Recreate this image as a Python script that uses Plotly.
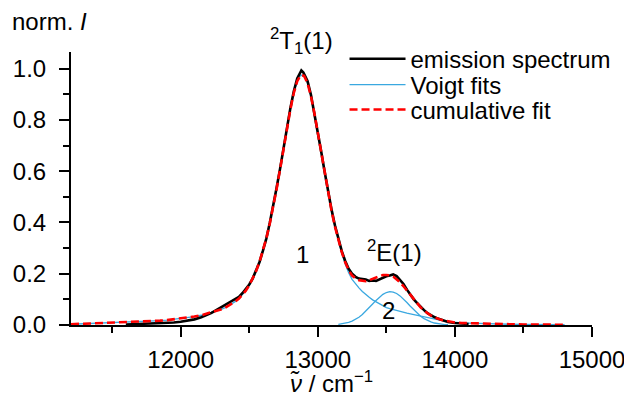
import plotly.graph_objects as go

# ---------------- data ----------------
fit_x = [11200, 11250, 11300, 11350, 11400, 11450, 11500, 11550, 11600, 11650,
         11700, 11750, 11800, 11850, 11900, 11950, 12000, 12050, 12100, 12150,
         12200, 12225, 12250, 12275, 12300, 12325, 12350, 12375, 12400, 12425,
         12450, 12475, 12500, 12525, 12550, 12575, 12600, 12625, 12650, 12675,
         12700, 12725, 12750, 12775, 12800, 12825, 12850, 12875, 12900, 12925,
         12950, 12975, 13000, 13025, 13050, 13075, 13100, 13125, 13150, 13175,
         13200, 13225, 13250, 13275, 13300, 13325, 13350, 13375, 13400, 13425,
         13450, 13475, 13500, 13525, 13550, 13575, 13600, 13625, 13650, 13675,
         13700, 13725, 13750, 13775, 13800, 13825, 13850, 13875, 13900, 13925,
         13950, 14000, 14050, 14100, 14200, 14300, 14400, 14500, 14600, 14700,
         14800]

voigt1 = [0.003, 0.004, 0.004, 0.005, 0.006, 0.007, 0.008, 0.009, 0.010, 0.011,
          0.012, 0.014, 0.015, 0.017, 0.019, 0.022, 0.025, 0.029, 0.033, 0.038,
          0.045, 0.049, 0.053, 0.058, 0.062, 0.068, 0.075, 0.082, 0.092, 0.103,
          0.117, 0.134, 0.155, 0.180, 0.210, 0.246, 0.289, 0.339, 0.396, 0.461,
          0.532, 0.608, 0.688, 0.767, 0.841, 0.905, 0.951, 0.975, 0.972, 0.944,
          0.893, 0.827, 0.751, 0.672, 0.593, 0.517, 0.447, 0.384, 0.328, 0.280,
          0.238, 0.204, 0.178, 0.160, 0.145, 0.131, 0.118, 0.108, 0.098, 0.090,
          0.082, 0.075, 0.068, 0.064, 0.060, 0.056, 0.053, 0.049, 0.046, 0.043,
          0.040, 0.037, 0.034, 0.031, 0.028, 0.025, 0.022, 0.019, 0.017, 0.015,
          0.013, 0.010, 0.008, 0.007, 0.005, 0.004, 0.003, 0.002, 0.002, 0.001,
          0.001]

cumulative = [0.003, 0.004, 0.004, 0.005, 0.006, 0.007, 0.008, 0.009, 0.010, 0.011,
              0.012, 0.014, 0.015, 0.017, 0.019, 0.022, 0.025, 0.029, 0.033, 0.038,
              0.045, 0.049, 0.053, 0.058, 0.062, 0.068, 0.075, 0.082, 0.092, 0.103,
              0.117, 0.134, 0.155, 0.180, 0.210, 0.246, 0.289, 0.339, 0.396, 0.461,
              0.532, 0.608, 0.688, 0.767, 0.841, 0.905, 0.951, 0.975, 0.972, 0.944,
              0.893, 0.827, 0.751, 0.672, 0.593, 0.517, 0.447, 0.384, 0.331, 0.284,
              0.245, 0.214, 0.193, 0.182, 0.175, 0.172, 0.171, 0.175, 0.180, 0.186,
              0.191, 0.195, 0.195, 0.194, 0.189, 0.179, 0.167, 0.151, 0.134, 0.116,
              0.099, 0.083, 0.069, 0.056, 0.046, 0.037, 0.030, 0.024, 0.020, 0.017,
              0.014, 0.010, 0.008, 0.007, 0.005, 0.004, 0.003, 0.002, 0.002, 0.001,
              0.001]

voigt2_x = [13150, 13175, 13200, 13225, 13250, 13275, 13300, 13325, 13350, 13375,
            13400, 13425, 13450, 13475, 13500, 13525, 13550, 13575, 13600, 13625,
            13650, 13675, 13700, 13725, 13750, 13775, 13800, 13825, 13850, 13875,
            13900, 13925, 13950]
voigt2 = [0.0025, 0.0041, 0.0066, 0.0101, 0.0151, 0.0218, 0.0304, 0.0410, 0.0534, 0.0673,
          0.0818, 0.0960, 0.1090, 0.1197, 0.1268, 0.1300, 0.1286, 0.1230, 0.1136, 0.1015,
          0.0876, 0.0730, 0.0588, 0.0458, 0.0345, 0.0250, 0.0176, 0.0119, 0.0078, 0.0050,
          0.0030, 0.0018, 0.0010]

spec_x = [11600, 11650, 11700, 11750, 11800, 11850, 11900, 11950, 12000, 12050,
          12100, 12150, 12200, 12225, 12250, 12275, 12300, 12325, 12350, 12375,
          12400, 12425, 12450, 12475, 12500, 12525, 12550, 12575, 12600, 12625,
          12650, 12675, 12700, 12725, 12750, 12775, 12800, 12825, 12850, 12875,
          12880, 12895, 12900, 12925, 12950, 12975, 13000, 13025, 13050, 13075,
          13100, 13125, 13150, 13175, 13200, 13225, 13250, 13275, 13300, 13325,
          13350, 13375, 13400, 13425, 13450, 13475, 13500, 13525, 13550, 13575,
          13600, 13625, 13650, 13675, 13700, 13725, 13750, 13775, 13800, 13825,
          13850, 13875, 13900, 13925, 13950, 14000, 14050, 14100]
spectrum = [0.002, 0.003, 0.003, 0.004, 0.005, 0.006, 0.008, 0.010, 0.013, 0.017,
            0.022, 0.030, 0.040, 0.047, 0.055, 0.063, 0.070, 0.078, 0.086, 0.093,
            0.102, 0.110, 0.124, 0.139, 0.158, 0.181, 0.212, 0.246, 0.290, 0.338,
            0.399, 0.462, 0.536, 0.610, 0.692, 0.771, 0.846, 0.912, 0.962, 0.988,
            0.993, 0.985, 0.980, 0.952, 0.898, 0.829, 0.757, 0.676, 0.598, 0.521,
            0.451, 0.389, 0.334, 0.288, 0.250, 0.219, 0.200, 0.188, 0.181, 0.180,
            0.177, 0.172, 0.174, 0.172, 0.179, 0.184, 0.190, 0.193, 0.197, 0.191,
            0.177, 0.160, 0.138, 0.118, 0.100, 0.085, 0.070, 0.058, 0.046, 0.037,
            0.031, 0.025, 0.020, 0.016, 0.012, 0.008, 0.006, 0.004]

x_ticks = [12000, 13000, 14000, 15000]
y_ticks = [0.0, 0.2, 0.4, 0.6, 0.8, 1.0]

FONT = "Liberation Sans, Arial, sans-serif"
FS = 24
BLUE = "#3aa8e0"

fig = go.Figure()
fig.add_trace(go.Scatter(x=fit_x, y=voigt1, mode="lines", name="Voigt fits",
                         line=dict(color=BLUE, width=1.3), legend="legend2"))
fig.add_trace(go.Scatter(x=voigt2_x, y=voigt2, mode="lines", showlegend=False,
                         line=dict(color=BLUE, width=1.3)))
fig.add_trace(go.Scatter(x=spec_x, y=spectrum, mode="lines", name="emission spectrum",
                         line=dict(color="black", width=2.6), legend="legend"))
fig.add_trace(go.Scatter(x=fit_x, y=cumulative, mode="lines", name="cumulative fit",
                         line=dict(color="#ff0000", width=2.6, dash="8px,4px"),
                         legend="legend3"))

leg_common = dict(font=dict(family=FONT, size=FS, color="black"),
                  bgcolor="rgba(0,0,0,0)", itemwidth=56, xanchor="left",
                  yanchor="middle", x=0.525, tracegroupgap=0)
fig.update_layout(
    legend=dict(y=0.974, **leg_common),
    legend2=dict(y=0.879, **leg_common),
    legend3=dict(y=0.788, **leg_common),
)

axis_common = dict(showline=True, linecolor="black", linewidth=2, ticks="outside",
                   ticklen=10, tickwidth=2, tickcolor="black", showgrid=False,
                   zeroline=False, mirror=False, automargin=False,
                   tickfont=dict(family=FONT, size=FS, color="black"))
fig.update_xaxes(range=[11200, 15000], tickvals=x_ticks,
                 ticktext=[str(v) for v in x_ticks],
                 minor=dict(dtick=500, tick0=11000, ticks="outside", ticklen=6,
                            tickwidth=2, tickcolor="black"),
                 ticklabelstandoff=2,
                 **axis_common)
fig.update_yaxes(range=[0, 1.065], tickvals=y_ticks,
                 ticktext=[f"{v:.1f}" for v in y_ticks],
                 minor=dict(dtick=0.1, tick0=0, ticks="outside", ticklen=6,
                            tickwidth=2, tickcolor="black"),
                 ticklabelstandoff=8,
                 **axis_common)

ann_font = dict(family=FONT, size=FS, color="black")
fig.add_annotation(text="norm. <i>I</i>", xref="paper", yref="paper",
                   x=-0.118, y=1.11, xanchor="left", yanchor="middle",
                   showarrow=False, font=ann_font)
fig.add_annotation(text="<i>ν̃</i> / cm<sup>−1</sup>", xref="paper", yref="paper",
                   x=0.5, y=-0.21, xanchor="center", yanchor="middle",
                   showarrow=False, font=ann_font)
fig.add_annotation(text="<sup>2</sup>T<sub>1</sub>(1)", x=12880, xref="x",
                   yref="paper", y=1.04, yanchor="middle",
                   showarrow=False, font=ann_font)
fig.add_annotation(text="<sup>2</sup>E(1)", x=13560, y=0.290,
                   showarrow=False, font=ann_font)
fig.add_annotation(text="1", x=12885, y=0.275, showarrow=False, font=ann_font)
fig.add_annotation(text="2", x=13515, y=0.058, showarrow=False, font=ann_font)

# page body adds an 8 px offset, so the figure is sized to the visible area
fig.update_layout(
    width=624, height=388,
    margin=dict(l=63, r=40, t=44, b=71),
    paper_bgcolor="white", plot_bgcolor="white",
    font=dict(family=FONT, color="black"),
)

fig.write_html("out.html")
